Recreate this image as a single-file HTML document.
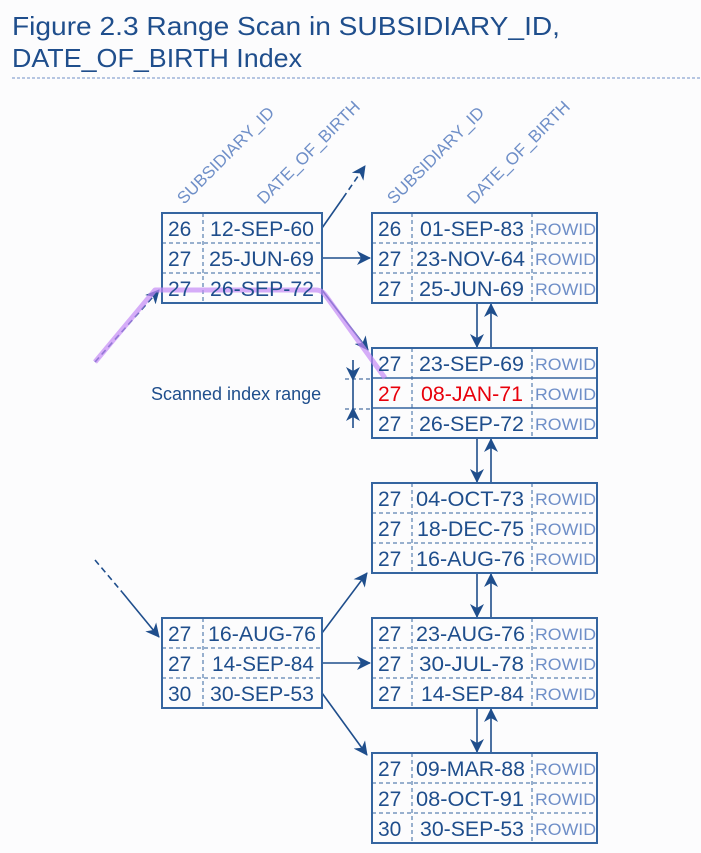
<!DOCTYPE html>
<html><head><meta charset="utf-8"><style>
html,body{margin:0;padding:0;background:#fcfcfd;}
svg{display:block;font-family:"Liberation Sans",sans-serif;}
</style></head><body>
<svg width="701" height="853" viewBox="0 0 701 853" xmlns="http://www.w3.org/2000/svg">
<defs>
<marker id="ahb" markerWidth="14" markerHeight="14" refX="13" refY="7" orient="auto" markerUnits="userSpaceOnUse" viewBox="0 0 14 14">
<path d="M0,0 L14,7 L0,14 L4,7 Z" fill="#1f4e8c"/></marker>
</defs>
<g fill="#1f4e8c" font-size="26">
<text x="12" y="35" textLength="548" lengthAdjust="spacingAndGlyphs">Figure 2.3 Range Scan in SUBSIDIARY_ID,</text>
<text x="12" y="67" textLength="290" lengthAdjust="spacingAndGlyphs">DATE_OF_BIRTH Index</text>
</g>
<line x1="12" y1="78" x2="701" y2="78" stroke="#6f8fc8" stroke-dasharray="3,2" stroke-width="1"/>

<g fill="#6f8fc8" font-size="17">
<text transform="translate(184,205) rotate(-45)">SUBSIDIARY_ID</text>
<text transform="translate(264,205) rotate(-45)">DATE_OF_BIRTH</text>
<text transform="translate(394,205) rotate(-45)">SUBSIDIARY_ID</text>
<text transform="translate(474,205) rotate(-45)">DATE_OF_BIRTH</text>
</g>

<g stroke="#1f4e8c" stroke-width="1.6" fill="none">
<line x1="322" y1="228" x2="343" y2="198"/>
<line x1="343" y1="198" x2="365" y2="166" stroke-dasharray="6,4" marker-end="url(#ahb)"/>
<line x1="322" y1="258" x2="370" y2="258" marker-end="url(#ahb)"/>
<line x1="322" y1="290" x2="368" y2="350" marker-end="url(#ahb)"/>
<line x1="95" y1="362" x2="159" y2="290" stroke-dasharray="6,4" marker-end="url(#ahb)"/>
<line x1="95" y1="560" x2="122" y2="592" stroke-dasharray="6,4"/>
<line x1="122" y1="592" x2="159" y2="637" marker-end="url(#ahb)"/>
<line x1="322" y1="633" x2="367" y2="573" marker-end="url(#ahb)"/>
<line x1="322" y1="663" x2="370" y2="663" marker-end="url(#ahb)"/>
<line x1="322" y1="693" x2="367" y2="755" marker-end="url(#ahb)"/>
<line x1="477" y1="303" x2="477" y2="347" marker-end="url(#ahb)"/>
<line x1="491" y1="348" x2="491" y2="304" marker-end="url(#ahb)"/>
<line x1="477" y1="438" x2="477" y2="482" marker-end="url(#ahb)"/>
<line x1="491" y1="483" x2="491" y2="439" marker-end="url(#ahb)"/>
<line x1="477" y1="573" x2="477" y2="617" marker-end="url(#ahb)"/>
<line x1="491" y1="618" x2="491" y2="574" marker-end="url(#ahb)"/>
<line x1="477" y1="708" x2="477" y2="752" marker-end="url(#ahb)"/>
<line x1="491" y1="753" x2="491" y2="709" marker-end="url(#ahb)"/>
<line x1="353" y1="360" x2="353" y2="380" marker-end="url(#ahb)"/>
<line x1="353" y1="380" x2="353" y2="408"/>
<line x1="353" y1="428" x2="353" y2="408" marker-end="url(#ahb)"/>
<line x1="345" y1="379" x2="372" y2="379" stroke-width="1" stroke-dasharray="4,3"/>
<line x1="345" y1="409" x2="372" y2="409" stroke-width="1" stroke-dasharray="4,3"/>
</g>
<text x="151" y="400" fill="#1f4e8c" font-size="18">Scanned index range</text>

<g stroke="#3565a0" fill="#fcfcfd">
<rect x="162" y="213" width="160" height="90" stroke-width="2"/>
<rect x="162" y="618" width="160" height="90" stroke-width="2"/>
</g>
<g stroke="#3565a0" stroke-width="1" stroke-dasharray="4,3">
<line x1="162" y1="243" x2="322" y2="243"/><line x1="162" y1="273" x2="322" y2="273"/><line x1="203" y1="213" x2="203" y2="303"/>
<line x1="162" y1="648" x2="322" y2="648"/><line x1="162" y1="678" x2="322" y2="678"/><line x1="203" y1="618" x2="203" y2="708"/>
</g>

<g stroke="#3565a0" fill="#fcfcfd" stroke-width="2">
<rect x="372" y="213" width="225" height="90"/>
<rect x="372" y="348" width="225" height="90"/>
<rect x="372" y="483" width="225" height="90"/>
<rect x="372" y="618" width="225" height="90"/>
<rect x="372" y="753" width="225" height="90"/>
</g>
<g stroke="#3565a0" stroke-width="1" stroke-dasharray="4,3">
<line x1="372" y1="243" x2="597" y2="243"/><line x1="372" y1="273" x2="597" y2="273"/>
<line x1="372" y1="513" x2="597" y2="513"/><line x1="372" y1="543" x2="597" y2="543"/>
<line x1="372" y1="648" x2="597" y2="648"/><line x1="372" y1="678" x2="597" y2="678"/>
<line x1="372" y1="783" x2="597" y2="783"/><line x1="372" y1="813" x2="597" y2="813"/>
<line x1="412" y1="213" x2="412" y2="303"/><line x1="532" y1="213" x2="532" y2="303"/>
<line x1="412" y1="348" x2="412" y2="438"/><line x1="532" y1="348" x2="532" y2="438"/>
<line x1="412" y1="483" x2="412" y2="573"/><line x1="532" y1="483" x2="532" y2="573"/>
<line x1="412" y1="618" x2="412" y2="708"/><line x1="532" y1="618" x2="532" y2="708"/>
<line x1="412" y1="753" x2="412" y2="843"/><line x1="532" y1="753" x2="532" y2="843"/>
</g>
<g stroke="#3565a0" stroke-width="1.5">
<line x1="372" y1="378" x2="597" y2="378"/><line x1="372" y1="408" x2="597" y2="408"/>
</g>

<!-- purple path on top -->
<path d="M95,362 L155,290 L316,290 Q322,290 326,296 L385,378" fill="none" stroke="#c58af5" stroke-width="5" stroke-opacity="0.7" stroke-linejoin="round"/>

<g fill="#1f4e8c" font-size="21">
<text x="168" y="236">26</text><text x="210" y="236" textLength="104" lengthAdjust="spacingAndGlyphs">12-SEP-60</text>
<text x="168" y="266">27</text><text x="209" y="266" textLength="105" lengthAdjust="spacingAndGlyphs">25-JUN-69</text>
<text x="168" y="296">27</text><text x="210" y="296" textLength="104" lengthAdjust="spacingAndGlyphs">26-SEP-72</text>
<text x="168" y="641">27</text><text x="208" y="641" textLength="108" lengthAdjust="spacingAndGlyphs">16-AUG-76</text>
<text x="168" y="671">27</text><text x="212" y="671" textLength="102" lengthAdjust="spacingAndGlyphs">14-SEP-84</text>
<text x="168" y="701">30</text><text x="210" y="701" textLength="104" lengthAdjust="spacingAndGlyphs">30-SEP-53</text>

<text x="378" y="236">26</text><text x="420" y="236" textLength="104" lengthAdjust="spacingAndGlyphs">01-SEP-83</text>
<text x="378" y="266">27</text><text x="416" y="266" textLength="109" lengthAdjust="spacingAndGlyphs">23-NOV-64</text>
<text x="378" y="296">27</text><text x="419" y="296" textLength="105" lengthAdjust="spacingAndGlyphs">25-JUN-69</text>
<text x="378" y="371">27</text><text x="419" y="371" textLength="105" lengthAdjust="spacingAndGlyphs">23-SEP-69</text>
<text x="378" y="401" fill="#e8000b">27</text><text x="421" y="401" fill="#e8000b" textLength="102" lengthAdjust="spacingAndGlyphs">08-JAN-71</text>
<text x="378" y="431">27</text><text x="419" y="431" textLength="105" lengthAdjust="spacingAndGlyphs">26-SEP-72</text>
<text x="378" y="506">27</text><text x="416" y="506" textLength="108" lengthAdjust="spacingAndGlyphs">04-OCT-73</text>
<text x="378" y="536">27</text><text x="417" y="536" textLength="107" lengthAdjust="spacingAndGlyphs">18-DEC-75</text>
<text x="378" y="566">27</text><text x="416" y="566" textLength="109" lengthAdjust="spacingAndGlyphs">16-AUG-76</text>
<text x="378" y="641">27</text><text x="416" y="641" textLength="109" lengthAdjust="spacingAndGlyphs">23-AUG-76</text>
<text x="378" y="671">27</text><text x="419" y="671" textLength="105" lengthAdjust="spacingAndGlyphs">30-JUL-78</text>
<text x="378" y="701">27</text><text x="421" y="701" textLength="103" lengthAdjust="spacingAndGlyphs">14-SEP-84</text>
<text x="378" y="776">27</text><text x="416" y="776" textLength="109" lengthAdjust="spacingAndGlyphs">09-MAR-88</text>
<text x="378" y="806">27</text><text x="416" y="806" textLength="108" lengthAdjust="spacingAndGlyphs">08-OCT-91</text>
<text x="378" y="836">30</text><text x="420" y="836" textLength="104" lengthAdjust="spacingAndGlyphs">30-SEP-53</text>
</g>
<g fill="#6f8fc8" font-size="17">
<text x="535" y="235" textLength="61" lengthAdjust="spacingAndGlyphs">ROWID</text><text x="535" y="265" textLength="61" lengthAdjust="spacingAndGlyphs">ROWID</text><text x="535" y="295" textLength="61" lengthAdjust="spacingAndGlyphs">ROWID</text>
<text x="535" y="370" textLength="61" lengthAdjust="spacingAndGlyphs">ROWID</text><text x="535" y="400" textLength="61" lengthAdjust="spacingAndGlyphs">ROWID</text><text x="535" y="430" textLength="61" lengthAdjust="spacingAndGlyphs">ROWID</text>
<text x="535" y="505" textLength="61" lengthAdjust="spacingAndGlyphs">ROWID</text><text x="535" y="535" textLength="61" lengthAdjust="spacingAndGlyphs">ROWID</text><text x="535" y="565" textLength="61" lengthAdjust="spacingAndGlyphs">ROWID</text>
<text x="535" y="640" textLength="61" lengthAdjust="spacingAndGlyphs">ROWID</text><text x="535" y="670" textLength="61" lengthAdjust="spacingAndGlyphs">ROWID</text><text x="535" y="700" textLength="61" lengthAdjust="spacingAndGlyphs">ROWID</text>
<text x="535" y="775" textLength="61" lengthAdjust="spacingAndGlyphs">ROWID</text><text x="535" y="805" textLength="61" lengthAdjust="spacingAndGlyphs">ROWID</text><text x="535" y="835" textLength="61" lengthAdjust="spacingAndGlyphs">ROWID</text>
</g>
</svg>
</body></html>
